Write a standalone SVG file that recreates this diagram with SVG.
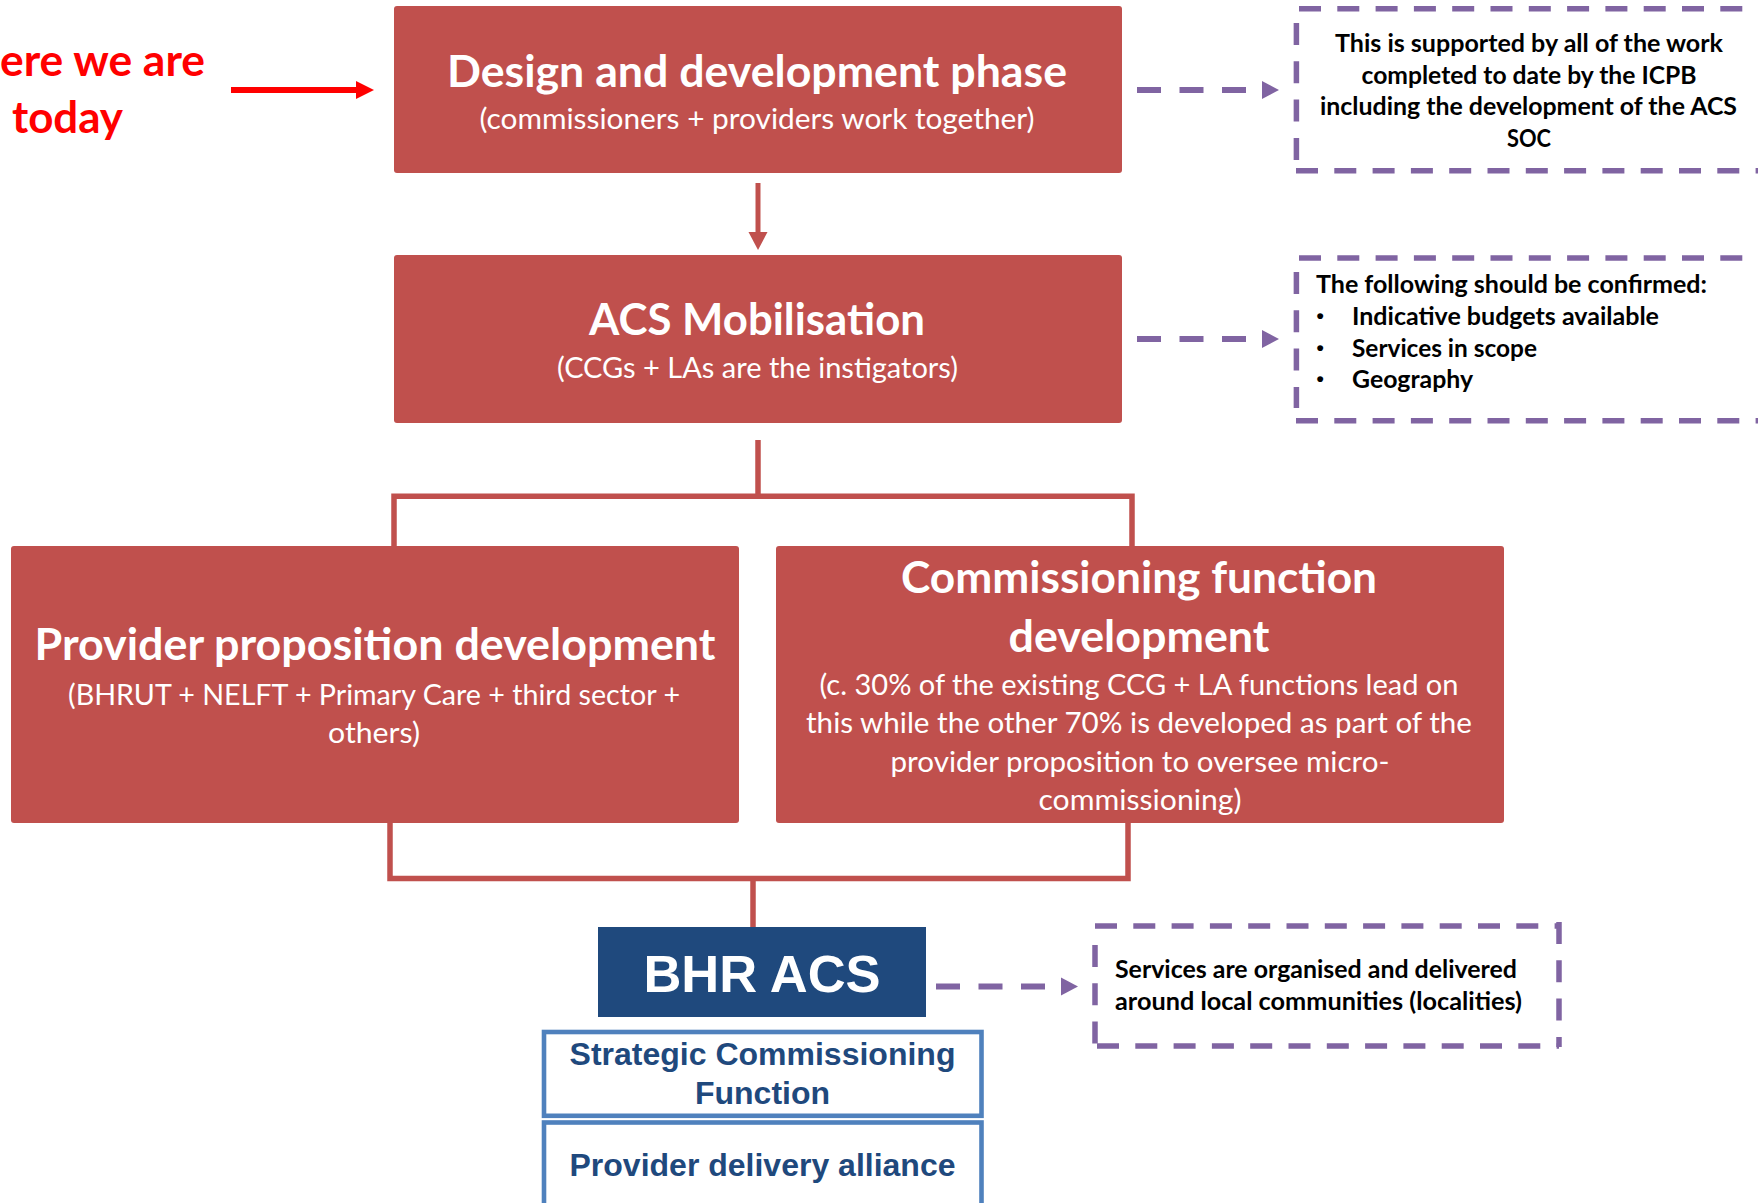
<svg xmlns="http://www.w3.org/2000/svg" width="1758" height="1203" viewBox="0 0 1758 1203">
<defs>
<marker id="purpleHead" markerUnits="userSpaceOnUse" markerWidth="17" markerHeight="18" viewBox="0 0 17 18" refX="-16" refY="9" orient="auto" overflow="visible">
<path d="M0,0 L17,9 L0,18 Z" fill="#8064A2"/>
</marker>
<marker id="redHead" markerUnits="userSpaceOnUse" markerWidth="18" markerHeight="18" viewBox="0 0 18 18" refX="0" refY="9" orient="auto" overflow="visible">
<path d="M0,0 L18,9 L0,18 Z" fill="#FF0000"/>
</marker>
<marker id="boxRedHead" markerUnits="userSpaceOnUse" markerWidth="18" markerHeight="19" viewBox="0 0 18 19" refX="0" refY="9.5" orient="auto" overflow="visible">
<path d="M0,0 L18,9.5 L0,19 Z" fill="#C0504D"/>
</marker>
</defs>
<style>
.box{fill:#C0504D}
.t{font-family:Lato,'Liberation Sans',sans-serif;font-weight:700;fill:#ffffff;text-anchor:middle}
.title{font-size:43px}
.sub{font-size:29px;font-weight:400}
.note{font-family:Lato,'Liberation Sans',sans-serif;font-weight:700;font-size:24px;fill:#000000}
.bullet{font-family:'Liberation Sans',Arial,sans-serif;font-weight:700;font-size:21px;fill:#000000}
.dash{stroke:#8064A2;stroke-width:5.5;stroke-dasharray:22 16.3;fill:none}
.conn{stroke:#C0504D;stroke-width:5.5;fill:none}
.pconn{stroke:#8064A2;stroke-width:6;stroke-dasharray:24 18.5;fill:none}
.blue{font-family:'Liberation Sans',Arial,sans-serif;font-weight:700;fill:#1F497D;text-anchor:middle}
.here{font-family:Lato,'Liberation Sans',sans-serif;font-weight:700;font-size:43px;fill:#FF0000}
</style>
<rect x="0" y="0" width="1758" height="1203" fill="#ffffff"/>

<g id="connectors">
<line x1="231" y1="90" x2="356" y2="90" stroke="#FF0000" stroke-width="6" marker-end="url(#redHead)"/>
<line x1="758" y1="183" x2="758" y2="232" stroke="#C0504D" stroke-width="5" marker-end="url(#boxRedHead)"/>
<line class="conn" x1="758" y1="440" x2="758" y2="496"/>
<path class="conn" d="M394,546 V496.3 H1132 V546"/>
<path class="conn" d="M390,823 V878.5 H1128 V823"/>
<line class="conn" x1="753" y1="878" x2="753" y2="927"/>
<line class="pconn" x1="1137" y1="90" x2="1246" y2="90" marker-end="url(#purpleHead)"/>
<line class="pconn" x1="1137" y1="339" x2="1246" y2="339" marker-end="url(#purpleHead)"/>
<line class="pconn" x1="936" y1="986.5" x2="1045" y2="986.5" marker-end="url(#purpleHead)"/>
</g>

<g id="here-label">
<text class="here" x="205" y="76" text-anchor="end" textLength="205" lengthAdjust="spacingAndGlyphs">ere we are</text>
<text class="here" x="12" y="133" textLength="111" lengthAdjust="spacingAndGlyphs">today</text>
</g>

<g id="design">
<rect class="box" x="394" y="6" width="728" height="167" rx="3"/>
<text class="t title" x="757" y="87" textLength="620" lengthAdjust="spacingAndGlyphs">Design and development phase</text>
<text class="t sub" x="757" y="129" textLength="555" lengthAdjust="spacingAndGlyphs">(commissioners + providers work together)</text>
</g>

<g id="mobilisation">
<rect class="box" x="394" y="255" width="728" height="168" rx="3"/>
<text class="t title" x="757" y="335" textLength="336" lengthAdjust="spacingAndGlyphs">ACS Mobilisation</text>
<text class="t sub" x="757.5" y="378" textLength="401" lengthAdjust="spacingAndGlyphs">(CCGs + LAs are the instigators)</text>
</g>

<g id="provider">
<rect class="box" x="11" y="546" width="728" height="277" rx="3"/>
<text class="t title" x="375" y="660" textLength="681" lengthAdjust="spacingAndGlyphs">Provider proposition development</text>
<text class="t sub" x="374" y="705" textLength="612" lengthAdjust="spacingAndGlyphs">(BHRUT + NELFT + Primary Care + third sector +</text>
<text class="t sub" x="374" y="743" textLength="92" lengthAdjust="spacingAndGlyphs">others)</text>
</g>

<g id="commissioning">
<rect class="box" x="776" y="546" width="728" height="277" rx="3"/>
<text class="t title" x="1139" y="593" textLength="476" lengthAdjust="spacingAndGlyphs">Commissioning function</text>
<text class="t title" x="1139" y="652" textLength="261" lengthAdjust="spacingAndGlyphs">development</text>
<text class="t sub" x="1139" y="695" textLength="639" lengthAdjust="spacingAndGlyphs">(c. 30% of the existing CCG + LA functions lead on</text>
<text class="t sub" x="1139" y="733" textLength="666" lengthAdjust="spacingAndGlyphs">this while the other 70% is developed as part of the</text>
<text class="t sub" x="1140" y="772" textLength="499" lengthAdjust="spacingAndGlyphs">provider proposition to oversee micro-</text>
<text class="t sub" x="1140" y="810" textLength="203" lengthAdjust="spacingAndGlyphs">commissioning)</text>
</g>

<g id="note-supported">
<line class="dash" x1="1299" y1="8.7" x2="1770" y2="8.7"/>
<line class="dash" x1="1296" y1="170.8" x2="1770" y2="170.8"/>
<line class="dash" x1="1296.4" y1="23" x2="1296.4" y2="160"/>
<text class="note" x="1529" y="51.5" text-anchor="middle" textLength="388" lengthAdjust="spacingAndGlyphs">This is supported by all of the work</text>
<text class="note" x="1529" y="83.5" text-anchor="middle" textLength="335" lengthAdjust="spacingAndGlyphs">completed to date by the ICPB</text>
<text class="note" x="1528.5" y="115" text-anchor="middle" textLength="417" lengthAdjust="spacingAndGlyphs">including the development of the ACS</text>
<text class="note" x="1529" y="147" text-anchor="middle" textLength="44" lengthAdjust="spacingAndGlyphs">SOC</text>
</g>

<g id="note-confirmed">
<line class="dash" x1="1299" y1="258" x2="1770" y2="258"/>
<line class="dash" x1="1296" y1="420.7" x2="1770" y2="420.7"/>
<line class="dash" x1="1296.4" y1="272" x2="1296.4" y2="408"/>
<text class="note" x="1316" y="293" textLength="391" lengthAdjust="spacingAndGlyphs">The following should be confirmed:</text>
<text class="bullet" x="1316.5" y="323">•</text>
<text class="note" x="1352" y="325" textLength="307" lengthAdjust="spacingAndGlyphs">Indicative budgets available</text>
<text class="bullet" x="1316.5" y="355">•</text>
<text class="note" x="1352" y="357" textLength="185" lengthAdjust="spacingAndGlyphs">Services in scope</text>
<text class="bullet" x="1316.5" y="386">•</text>
<text class="note" x="1352" y="388" textLength="121" lengthAdjust="spacingAndGlyphs">Geography</text>
</g>

<g id="bhr-acs">
<rect x="598" y="927" width="328" height="90" fill="#1F497D"/>
<text x="762" y="992" font-family="'Liberation Sans',Arial,sans-serif" font-weight="700" font-size="52.5" fill="#ffffff" text-anchor="middle">BHR ACS</text>
</g>

<g id="strategic-commissioning">
<rect x="544" y="1032" width="437.5" height="83.8" fill="#ffffff" stroke="#4F81BD" stroke-width="4.6"/>
<text class="blue" x="762.5" y="1065" font-size="32">Strategic Commissioning</text>
<text class="blue" x="762.5" y="1104" font-size="32">Function</text>
</g>

<g id="provider-alliance">
<rect x="544" y="1122.5" width="437.5" height="120" fill="#ffffff" stroke="#4F81BD" stroke-width="4.6"/>
<text class="blue" x="762.5" y="1176" font-size="32">Provider delivery alliance</text>
</g>

<g id="note-localities">
<line class="dash" x1="1095" y1="926" x2="1559" y2="926"/>
<line class="dash" x1="1097" y1="1046" x2="1559" y2="1046"/>
<line class="dash" x1="1095" y1="945" x2="1095" y2="1044"/>
<line class="dash" x1="1559" y1="922" x2="1559" y2="1047"/>
<text class="note" x="1115" y="978" textLength="402" lengthAdjust="spacingAndGlyphs">Services are organised and delivered</text>
<text class="note" x="1115" y="1010" textLength="407" lengthAdjust="spacingAndGlyphs">around local communities (localities)</text>
</g>
</svg>
